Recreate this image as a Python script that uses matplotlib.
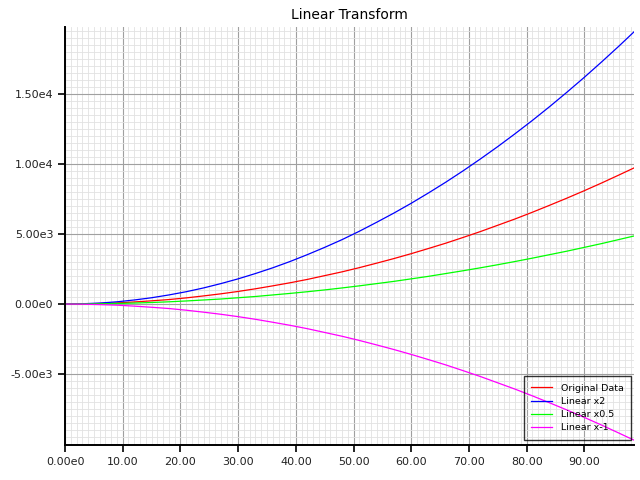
import matplotlib
matplotlib.use('Agg')
import matplotlib.pyplot as plt
from matplotlib.ticker import MultipleLocator

# values
x = [0, 3, 6, 9, 12, 15, 18, 21, 24, 27, 30, 33, 36, 39, 42, 45, 48,
     51, 54, 57, 60, 63, 66, 69, 72, 75, 78, 81, 84, 87, 90, 93, 96, 99]

original = [0, 10, 40, 80, 150, 230, 320, 440, 580, 730, 900, 1090, 1300,
            1520, 1760, 2030, 2300, 2600, 2920, 3250, 3600, 3970, 4350,
            4760, 5180, 5630, 6080, 6560, 7060, 7570, 8100, 8650, 9220, 9800]

linear_x2 = [0, 20, 70, 160, 290, 450, 650, 880, 1150, 1460, 1800, 2180,
             2590, 3040, 3530, 4050, 4600, 5200, 5840, 6500, 7200, 7940,
             8710, 9520, 10370, 11250, 12170, 13120, 14110, 15140, 16200,
             17300, 18430, 19600]

linear_x05 = [0, 5, 20, 40, 70, 110, 160, 220, 290, 360, 450, 540, 650,
              760, 880, 1010, 1150, 1300, 1460, 1620, 1800, 1980, 2180, 2380,
              2590, 2810, 3040, 3280, 3530, 3780, 4050, 4320, 4610, 4900]

linear_xm1 = [0, -10, -40, -80, -150, -230, -320, -440, -580, -730, -900,
              -1090, -1300, -1520, -1760, -2030, -2300, -2600, -2920, -3250,
              -3600, -3970, -4350, -4760, -5180, -5630, -6080, -6560, -7060,
              -7570, -8100, -8650, -9220, -9800]

x_ticks = [0, 10, 20, 30, 40, 50, 60, 70, 80, 90]
x_tick_labels = ['0.00e0', '10.00', '20.00', '30.00', '40.00', '50.00',
                 '60.00', '70.00', '80.00', '90.00']
y_ticks = [-5000, 0, 5000, 10000, 15000]
y_tick_labels = ['-5.00e3', '0.00e0', '5.00e3', '1.00e4', '1.50e4']

fig = plt.figure(figsize=(6.4, 4.8), dpi=100)
ax = fig.add_axes([0.1016, 0.0729, 0.889, 0.8708])

ax.plot(x, original, color='#ff0000', lw=0.9, label='Original Data')
ax.plot(x, linear_x2, color='#0000ff', lw=0.9, label='Linear x2')
ax.plot(x, linear_x05, color='#00ff00', lw=0.9, label='Linear x0.5')
ax.plot(x, linear_xm1, color='#ff00ff', lw=0.9, label='Linear x-1')

ax.set_xlim(0, 98.6)
ax.set_ylim(-10070, 19790)

ax.set_xticks(x_ticks)
ax.set_xticklabels(x_tick_labels)
ax.set_yticks(y_ticks)
ax.set_yticklabels(y_tick_labels)
ax.xaxis.set_minor_locator(MultipleLocator(1))
ax.yaxis.set_minor_locator(MultipleLocator(500))

# grid
ax.grid(which='major', color='#a0a0a0', lw=0.8)
ax.grid(which='minor', color='#e2e2e2', lw=0.6)
ax.set_axisbelow(True)

# spines and ticks
for side in ['top', 'right']:
    ax.spines[side].set_visible(False)
for side in ['left', 'bottom']:
    ax.spines[side].set_linewidth(1.4)
ax.tick_params(which='major', length=5, width=1.2, labelsize=8,
               labelcolor='#222222')
ax.tick_params(which='minor', length=0)

ax.set_title('Linear Transform', fontsize=10, pad=6)

leg = ax.legend(loc='lower right', bbox_to_anchor=(0.9947, 0.012),
                borderaxespad=0, fontsize=6.8, frameon=True, fancybox=False,
                handlelength=2.2, handletextpad=0.9, borderpad=0.8,
                labelspacing=0.45)
leg.get_frame().set_facecolor('none')
leg.get_frame().set_edgecolor('black')
leg.get_frame().set_linewidth(1.0)

plt.savefig('out.png', dpi=100)
